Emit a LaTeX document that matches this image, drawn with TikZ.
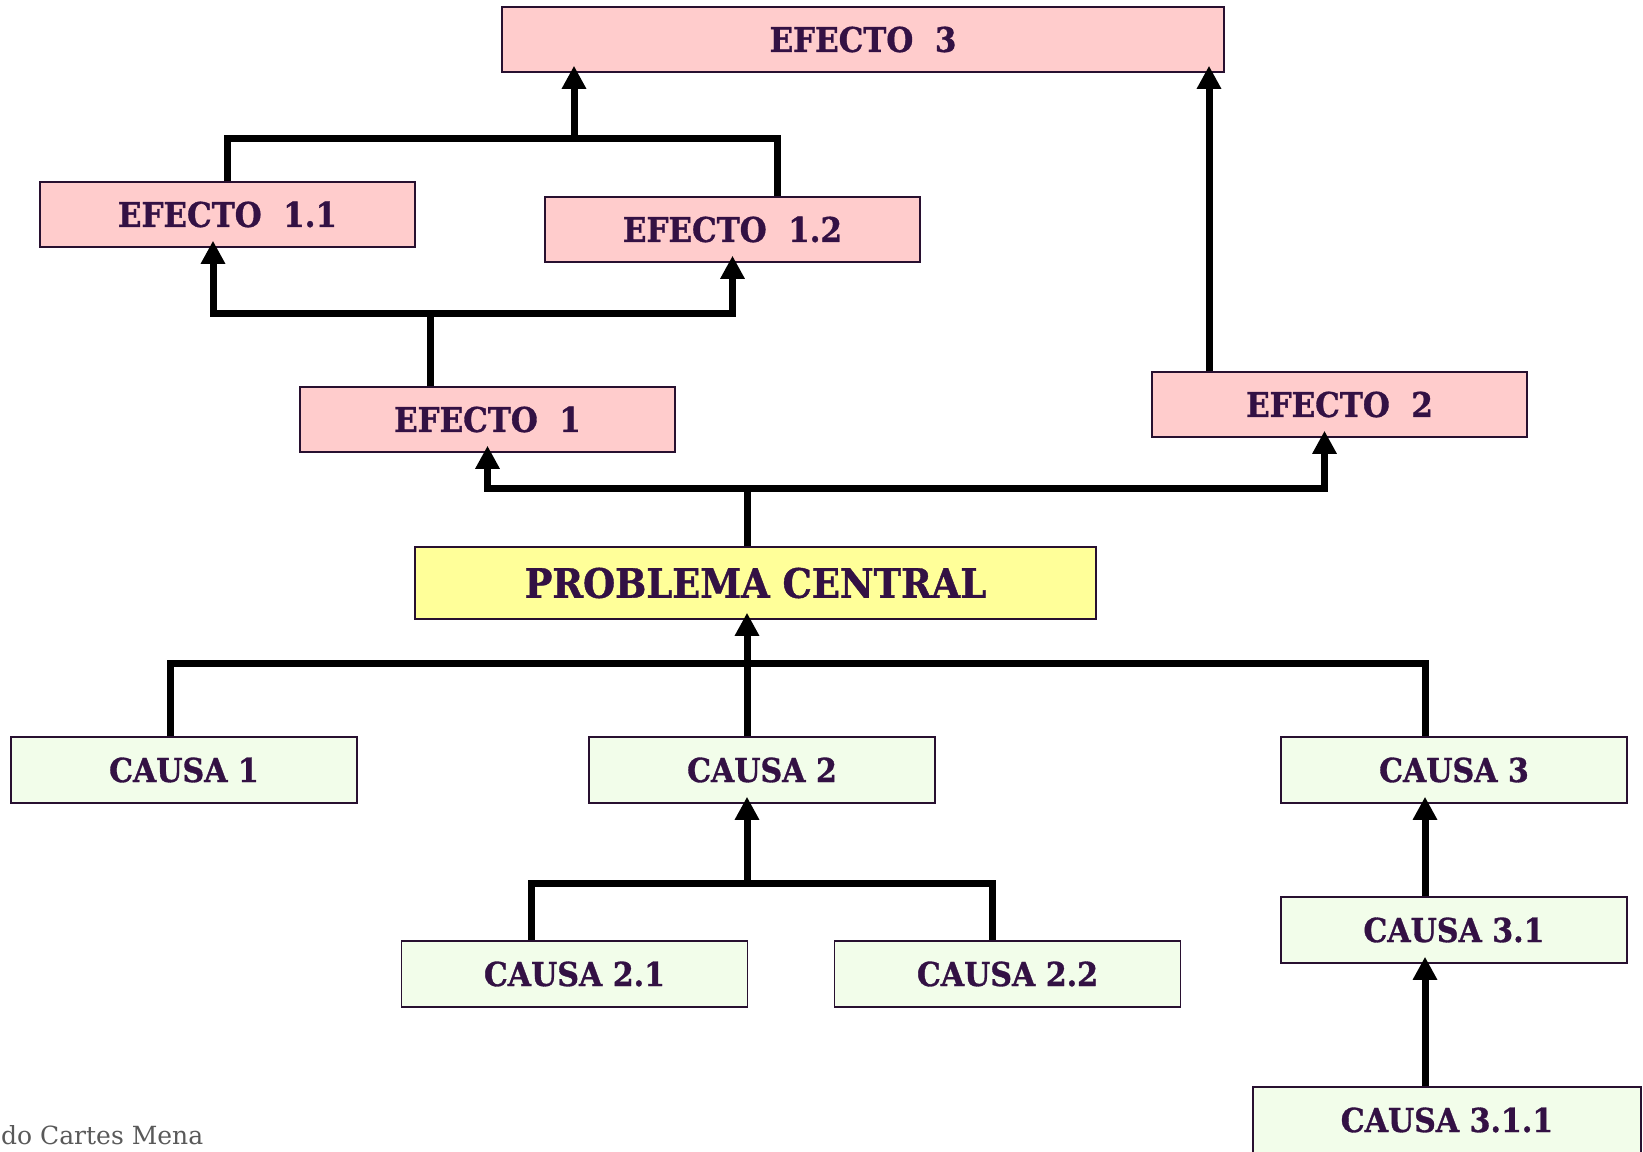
\documentclass[tikz,border=0pt]{standalone}
\usepackage{fontspec}
\setmainfont{DejaVu Serif}
\newfontfamily\boxfont{DejaVu Serif}[FakeStretch=0.91, FakeBold=1]
\usepackage{tikz}
\usetikzlibrary{arrows.meta}

\definecolor{txt}{RGB}{51,17,68}
\definecolor{boxline}{RGB}{40,16,48}
\definecolor{efectofill}{RGB}{255,204,204}
\definecolor{problemafill}{RGB}{255,255,153}
\definecolor{causafill}{RGB}{242,253,234}
\definecolor{footgray}{RGB}{89,89,89}

\tikzset{
	box/.style={shape=rectangle, draw=boxline, line width=1.5pt, inner sep=0pt, text=txt},
	efecto/.style={box, fill=efectofill, minimum width=375pt, minimum height=65pt, font=\boxfont\fontsize{34}{38}\selectfont\bfseries},
	causa/.style={box, fill=causafill, minimum width=346pt, minimum height=66pt, font=\boxfont\fontsize{33}{36}\selectfont\bfseries},
	link/.style={line width=7pt, line join=miter},
	arrow/.style={link, -{Triangle[width=23pt,length=23pt]}, shorten >=-7pt}
}

\begin{document}
\begin{tikzpicture}[x=1pt, y=-1pt]
	\useasboundingbox (0,0) rectangle (1643,1151);

	\node[efecto, minimum width=722pt] (E3) at (863, 39.5) {EFECTO~ 3};
	\node[efecto] (E11) at (227.5, 214.5) {EFECTO~ 1.1};
	\node[efecto] (E12) at (732.5, 229.5) {EFECTO~ 1.2};
	\node[efecto] (E1) at (487.5, 419.5) {EFECTO~ 1};
	\node[efecto] (E2) at (1339.5, 404.5) {EFECTO~ 2};

	\node[box, fill=problemafill, minimum width=681pt, minimum height=72pt, font=\boxfont\fontsize{40.5}{44}\selectfont\bfseries] (P) at (755.5, 583) {PROBLEMA CENTRAL};

	\node[causa] (C1) at (184, 770) {CAUSA 1};
	\node[causa] (C2) at (762, 770) {CAUSA 2};
	\node[causa] (C3) at (1454, 770) {CAUSA 3};
	\node[causa] (C21) at (574.5, 974) {CAUSA 2.1};
	\node[causa] (C22) at (1007.5, 974) {CAUSA 2.2};
	\node[causa] (C31) at (1454, 930) {CAUSA 3.1};
	\node[causa, minimum width=388pt] (C311) at (1447, 1120) {CAUSA 3.1.1};

	\node[anchor=base west, inner sep=0pt, text=footgray, font=\fontsize{25}{28}\selectfont] (autor) at (1, 1144) {do Cartes Mena};

	% efectos
	\coordinate (jE) at (747, 488);
	\draw[link] (P.north -| jE) -- (jE);
	\draw[arrow] (jE) -| (E1.south);
	\draw[arrow] (jE) -| ([xshift=-15pt]E2.south);

	\coordinate (j1) at (430, 313);
	\draw[link] (E1.north -| j1) -- (j1);
	\draw[arrow] (j1) -| ([xshift=-14.5pt]E11.south);
	\draw[arrow] (j1) -| (E12.south);

	\coordinate (j11) at (574, 138);
	\draw[link] (E11.north) |- (j11) -| ([xshift=44.5pt]E12.north);
	\draw[arrow] (j11) -- (j11 |- E3.south);

	\coordinate (k2) at (1209, 0);
	\draw[arrow] (E2.north -| k2) -- (E3.south -| k2);

	% causas
	\coordinate (jC) at (747, 663);
	\draw[link] ([xshift=-14pt]C1.north) |- (jC) -| ([xshift=-29pt]C3.north);
	\draw[arrow] (C2.north -| jC) -- (P.south -| jC);

	\coordinate (j2) at (747, 883);
	\draw[link] ([xshift=-43.5pt]C21.north) |- (j2) -| ([xshift=-15.5pt]C22.north);
	\draw[arrow] (j2) -- (C2.south -| j2);

	\draw[arrow] ([xshift=-29pt]C31.north) -- ([xshift=-29pt]C3.south);
	\draw[arrow] ([xshift=-22pt]C311.north) -- ([xshift=-29pt]C31.south);
\end{tikzpicture}
\end{document}
